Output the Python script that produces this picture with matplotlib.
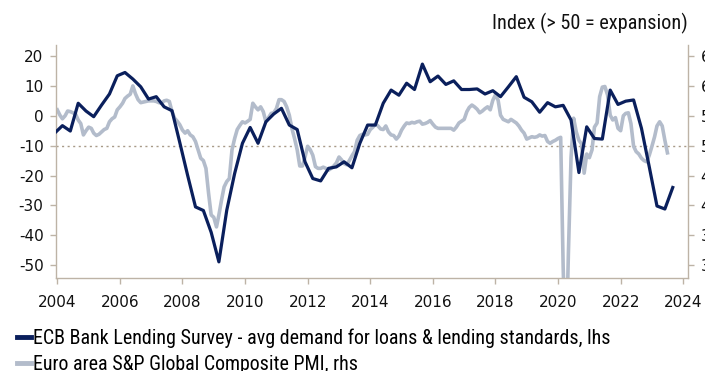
import matplotlib
matplotlib.use("Agg")
import matplotlib.pyplot as plt
import matplotlib.dates as mdates
from matplotlib import font_manager as fm
import pandas as pd

# ECB Bank Lending Survey, quarterly (lhs)
bls_start = "2003-12-01"
bls_values = [
    -5.8, -3.3, -5.1, 4.2, 1.6, -0.3, 3.6, 7.3, 13.4, 14.5,
    12.3, 9.7, 5.6, 6.4, 3.0, 1.7, -9.0, -19.9, -30.5, -31.7,
    -39.0, -48.9, -31.6, -19.3, -9.2, -3.9, -9.2, -2.0, 0.6, 2.5,
    -3.1, -4.6, -15.4, -21.0, -21.8, -17.6, -17.1, -15.4, -17.4, -9.2,
    -3.1, -3.1, 4.2, 8.6, 6.9, 10.9, 8.8, 17.3, 11.4, 13.3,
    10.5, 11.7, 8.8, 8.8, 9.0, 7.3, 8.4, 6.4, 9.7, 13.1,
    6.2, 4.7, 1.2, 4.4, 3.0, 3.5, -1.4, -19.0, -3.7, -7.6,
    -7.8, 8.6, 3.8, 4.9, 5.3, -4.2, -17.1, -30.2, -31.2, -24.0,
]

# Euro area S&P Global Composite PMI, monthly (rhs)
pmi_start = "2004-01-01"
pmi_values = [
    56.0, 55.1, 54.5, 55.0, 55.8, 55.7, 55.5, 55.3, 54.3, 53.7, 51.8, 52.5,  # 2004
    53.1, 52.9, 52.1, 51.7, 51.9, 52.3, 52.7, 52.9, 54.0, 54.5, 54.8, 56.0,  # 2005
    56.5, 57.1, 57.9, 58.3, 58.6, 60.0, 58.7, 57.7, 57.2, 57.3, 57.4, 57.5,  # 2006
    57.5, 57.5, 57.4, 57.2, 57.1, 57.5, 57.6, 57.4, 55.7, 54.6, 54.1, 53.5,  # 2007
    52.6, 52.1, 52.5, 51.8, 51.5, 50.7, 49.3, 47.9, 47.5, 46.2, 42.0, 38.4,  # 2008
    38.0, 36.4, 38.4, 40.9, 43.1, 44.0, 44.5, 49.3, 51.2, 52.7, 53.4, 54.0,  # 2009
    53.8, 54.1, 54.4, 57.1, 56.5, 56.0, 56.5, 55.7, 54.0, 54.7, 55.4, 55.5,  # 2010
    56.2, 57.7, 57.7, 57.4, 56.5, 55.1, 52.9, 51.2, 49.3, 46.6, 46.6, 48.1,  # 2011
    49.9, 49.3, 48.4, 46.5, 46.2, 46.2, 46.4, 46.2, 45.9, 46.2, 46.6, 47.1,  # 2012
    48.1, 47.6, 47.0, 46.8, 47.5, 48.3, 49.0, 50.9, 51.7, 51.9, 51.8, 51.9,  # 2013
    52.7, 53.1, 53.6, 53.3, 52.8, 52.7, 53.3, 52.3, 51.8, 51.7, 51.1, 51.6,  # 2014
    52.6, 53.3, 53.8, 53.7, 53.9, 53.8, 54.0, 54.1, 53.6, 53.7, 53.9, 54.2,  # 2015
    53.6, 53.1, 52.9, 52.9, 52.9, 52.9, 52.9, 52.9, 52.6, 53.1, 53.8, 54.1,  # 2016
    54.4, 55.7, 56.4, 56.8, 56.5, 56.1, 55.5, 55.8, 56.2, 56.5, 56.0, 57.6,  # 2017
    58.5, 57.6, 55.1, 54.4, 54.2, 54.0, 54.4, 54.1, 53.8, 53.3, 52.6, 52.1,  # 2018
    51.1, 51.3, 51.5, 51.4, 51.5, 51.8, 51.6, 51.7, 50.7, 50.4, 50.7, 50.9,  # 2019
    51.2, 51.4, 29.7, 13.6, 31.9, 48.0, 54.6, 52.3, 50.9, 50.3, 45.4, 48.6,  # 2020
    48.0, 49.3, 53.1, 53.8, 58.2, 59.8, 59.9, 58.5, 55.1, 54.3, 54.7, 52.9,  # 2021
    52.5, 55.0, 55.4, 55.5, 53.7, 49.9, 49.0, 48.6, 47.9, 47.5, 47.3, 48.4,  # 2022
    49.9, 51.5, 53.3, 54.0, 53.3, 50.9, 48.8,                                # 2023
]

left_ticks = [20, 10, 0, -10, -20, -30, -40, -50]
right_ticks = [65, 60, 55, 50, 45, 40, 35, 30]

bls_label = "ECB Bank Lending Survey - avg demand for loans & lending standards, lhs"
pmi_label = "Euro area S&P Global Composite PMI, rhs"
units_note = "Index (> 50 = expansion)"

NAVY = "#0a1f5c"
GREY = "#b3bccb"
SPINE = "#bdb3a6"


def is_regular(f):
    w = f.weight
    if isinstance(w, str):
        w = {"normal": 400, "regular": 400, "book": 400, "medium": 500}.get(w, 0)
    return f.style == "normal" and w in (400, 500)


def narrow_font():
    # the original uses a narrow sans; take whatever condensed face is installed
    wanted = ["Liberation Sans Narrow", "Roboto Condensed", "Open Sans Condensed",
              "Noto Sans Condensed", "DejaVu Sans Condensed", "Noto Sans Display Condensed"]
    regular = [f for f in fm.fontManager.ttflist if is_regular(f)]
    for name in wanted:
        for f in regular:
            if f.name == name:
                return fm.FontProperties(fname=f.fname)
    for f in regular:
        if f.stretch in ("condensed", "semi-condensed", "extra-condensed") and \
                "Mono" not in f.name and "Serif" not in f.name:
            return fm.FontProperties(fname=f.fname)
    return fm.FontProperties(family="Liberation Sans")


def fit_size(fig, text, fp, width_px, start=12.0):
    # font size that makes the text span width_px
    probe = fp.copy()
    probe.set_size(start)
    t = fig.text(0, 0, text, fontproperties=probe)
    w = t.get_window_extent(renderer=fig.canvas.get_renderer()).width
    t.remove()
    return start * width_px / w


def main():
    bls = pd.Series(bls_values, index=pd.date_range(bls_start, periods=len(bls_values), freq="3MS"))
    pmi = pd.Series(pmi_values, index=pd.date_range(pmi_start, periods=len(pmi_values), freq="MS"))

    fig = plt.figure(figsize=(7.05, 3.71), dpi=100)
    ax = fig.add_axes([56 / 705, 1 - 278 / 371, (688 - 56) / 705, (278 - 45) / 371])
    ax2 = ax.twinx()

    lo, hi = -54.3, 23.7
    ax.set_ylim(lo, hi)
    ax2.set_ylim(55 + lo / 2, 55 + hi / 2)

    # 50 = expansion threshold on the rhs, which is -10 on the lhs
    ax2.axhline(50, color="#a89a88", lw=1.0, ls=(0, (1.5, 2.5)), zorder=1)

    l2, = ax2.plot(pmi.index, pmi.values, color=GREY, lw=2.6, zorder=2)
    l1, = ax.plot(bls.index, bls.values, color=NAVY, lw=2.3, zorder=3)
    ax.set_zorder(ax2.get_zorder() + 1)
    ax.patch.set_visible(False)

    ax.set_xlim(pd.Timestamp("2003-12-17"), pd.Timestamp("2024-02-26"))
    ax.xaxis.set_major_locator(mdates.YearLocator(2))
    ax.xaxis.set_major_formatter(mdates.DateFormatter("%Y"))

    ax.set_yticks(left_ticks)
    ax.set_yticklabels([str(t) for t in left_ticks])
    ax2.set_yticks(right_ticks)

    for a in (ax, ax2):
        a.spines["top"].set_visible(False)
        for s in ("left", "right", "bottom"):
            a.spines[s].set_color(SPINE)
            a.spines[s].set_linewidth(1.0)
        a.tick_params(colors=SPINE, labelcolor="#111111", labelsize=11, length=4, width=1)
    ax.spines["right"].set_visible(False)
    ax2.spines["left"].set_visible(False)
    ax2.spines["bottom"].set_visible(False)
    ax.tick_params(axis="x", pad=8)
    ax.tick_params(axis="y", pad=5)
    ax2.tick_params(axis="y", pad=5)

    narrow = narrow_font()

    note_fp = narrow.copy()
    note_fp.set_size(fit_size(fig, units_note, narrow, 195))
    fig.text(688 / 705, 1 - 23 / 371, units_note, ha="right", va="center",
             fontproperties=note_fp, color="#111111")

    leg_fp = narrow.copy()
    leg_size = fit_size(fig, bls_label, narrow, 579)
    leg_fp.set_size(leg_size)
    em = leg_size * 100 / 72  # font size in pixels
    fig.legend([l1, l2], [bls_label, pmi_label], loc="center left",
               bbox_to_anchor=(17 / 705, 1 - 351 / 371), frameon=False,
               handlelength=14 / em, handletextpad=2 / em,
               labelspacing=max(0.05, (26 - 0.93 * em) / em),
               borderpad=0, borderaxespad=0, prop=leg_fp)
    for h in fig.legends[0].legend_handles:
        h.set_linewidth(3.5)

    fig.savefig("out.png", dpi=100)


if __name__ == "__main__":
    main()
